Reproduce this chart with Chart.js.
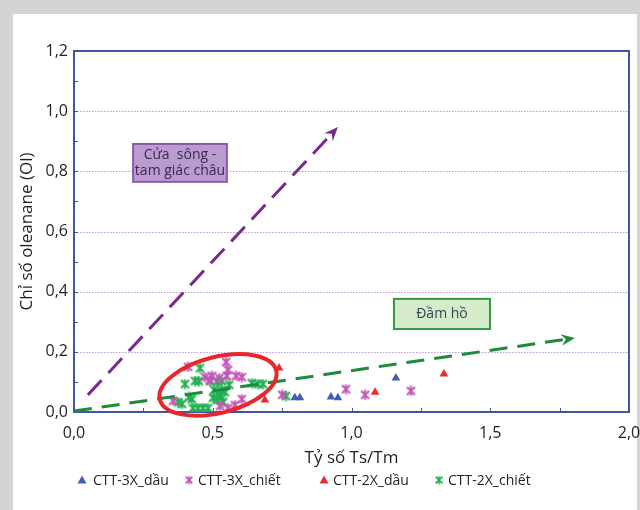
<!DOCTYPE html>
<html>
<head>
<meta charset="utf-8">
<script src="https://cdn.jsdelivr.net/npm/chart.js@4/dist/chart.umd.min.js"></script>
<style>
  html, body { margin: 0; padding: 0; width: 640px; height: 510px; overflow: hidden; background: #d4d4d4; }
  #frame { position: absolute; left: 13px; top: 14px; width: 624px; height: 496px; background: #ffffff; }
  canvas { display: block; position: absolute; left: 0; top: 0; }
</style>
</head>
<body>
<div id="frame"><canvas id="chart" width="628" height="496"></canvas></div>
<script>
// Ts/Tm ratio (x) and oleanane index (y) per sample group
const ctt3xDauX = [0.796, 0.814, 0.926, 0.951, 1.160];
const ctt3xDauY = [0.047, 0.047, 0.050, 0.047, 0.113];

const ctt3xChietX = [0.411, 0.548, 0.555, 0.472, 0.497, 0.523, 0.551, 0.584, 0.605, 0.490,
                     0.357, 0.605, 0.580, 0.555, 0.526, 0.750, 0.980, 1.049, 1.214];
const ctt3xChietY = [0.150, 0.166, 0.140, 0.116, 0.120, 0.113, 0.120, 0.120, 0.116, 0.106,
                     0.037, 0.043, 0.023, 0.013, 0.020, 0.057, 0.076, 0.057, 0.070];

const ctt2xDauX = [0.739, 0.688, 1.085, 1.333];
const ctt2xDauY = [0.146, 0.040, 0.066, 0.126];

const ctt2xChietX = [0.454, 0.400, 0.436, 0.450, 0.490, 0.515, 0.533, 0.559, 0.505, 0.533,
                     0.641, 0.663, 0.681, 0.375, 0.389, 0.414, 0.425, 0.429, 0.447, 0.465,
                     0.483, 0.501, 0.515, 0.530, 0.537, 0.523, 0.544, 0.764];
const ctt2xChietY = [0.146, 0.093, 0.103, 0.103, 0.103, 0.100, 0.103, 0.090, 0.073, 0.073,
                     0.096, 0.093, 0.093, 0.033, 0.027, 0.050, 0.043, 0.013, 0.013, 0.013,
                     0.013, 0.047, 0.040, 0.050, 0.033, 0.060, 0.066, 0.053];

const seriesNames = ['CTT-3X_dầu', 'CTT-3X_chiết', 'CTT-2X_dầu', 'CTT-2X_chiết'];
const xTicks = [0, 0.5, 1.0, 1.5, 2.0];
const yTicks = [0, 0.2, 0.4, 0.6, 0.8, 1.0, 1.2];

// Trend arrows and zone labels, in data units
const arrowDelta = { from: [0.050, 0.057], to: [0.951, 0.947] };
const arrowLake  = { from: [0.000, 0.003], to: [1.805, 0.246] };
const boxDelta = { x0: 0.213, x1: 0.551, y0: 0.891, y1: 0.765, lines: ['Cửa  sông -', 'tam giác châu'] };
const boxLake  = { x0: 1.153, x1: 1.499, y0: 0.376, y1: 0.276, lines: ['Đầm hồ'] };
const clusterRing = { cx: 0.519, cy: 0.090, rx: 0.216, ry: 0.093, angle: -14 };

// legend label start offsets along the bottom row
const legendSlots = [80, 185, 320, 435];

const FONT = '"Open Sans", "Noto Sans", sans-serif';
const AXIS_BLUE = '#3f55a8';

function toPoints(xs, ys) { return xs.map((x, i) => ({ x, y: ys[i] })); }

// six-ray star marker (X plus vertical stroke)
function starMarker(color, size) {
  const c = document.createElement('canvas');
  c.width = size; c.height = size;
  const g = c.getContext('2d');
  g.strokeStyle = color; g.lineWidth = 2; g.lineCap = 'butt';
  const m = 1.5;
  g.beginPath();
  g.moveTo(m, m); g.lineTo(size - m, size - m);
  g.moveTo(size - m, m); g.lineTo(m, size - m);
  g.moveTo(size / 2, 0.5); g.lineTo(size / 2, size - 0.5);
  g.stroke();
  return c;
}

const fmt = v => Number(v).toFixed(1).replace('.', ',');

function drawArrow(g, x0, y0, x1, y1, color, dash) {
  const ang = Math.atan2(y1 - y0, x1 - x0);
  const headLen = 15;
  const bx = x1 - Math.cos(ang) * headLen * 0.7;
  const by = y1 - Math.sin(ang) * headLen * 0.7;
  g.save();
  g.strokeStyle = color; g.lineWidth = 3; g.setLineDash(dash);
  g.beginPath(); g.moveTo(x0, y0); g.lineTo(bx, by); g.stroke();
  g.setLineDash([]);
  g.fillStyle = color;
  g.beginPath();
  g.moveTo(x1, y1);
  g.lineTo(x1 - Math.cos(ang - 0.4) * headLen, y1 - Math.sin(ang - 0.4) * headLen);
  g.lineTo(x1 - Math.cos(ang) * headLen * 0.6, y1 - Math.sin(ang) * headLen * 0.6);
  g.lineTo(x1 - Math.cos(ang + 0.4) * headLen, y1 - Math.sin(ang + 0.4) * headLen);
  g.closePath(); g.fill();
  g.restore();
}

function drawBox(g, xs, ys, box, fill, stroke, textColor) {
  const l = xs.getPixelForValue(box.x0), r = xs.getPixelForValue(box.x1);
  const t = ys.getPixelForValue(box.y0), b = ys.getPixelForValue(box.y1);
  g.save();
  g.fillStyle = fill; g.fillRect(l, t, r - l, b - t);
  g.strokeStyle = stroke; g.lineWidth = 2; g.strokeRect(l, t, r - l, b - t);
  g.fillStyle = textColor; g.font = '14px ' + FONT;
  g.textAlign = 'center'; g.textBaseline = 'middle';
  const n = box.lines.length, lh = 16;
  box.lines.forEach((s, i) => g.fillText(s, (l + r) / 2, (t + b) / 2 + (i - (n - 1) / 2) * lh));
  g.restore();
}

const overlay = {
  id: 'overlay',
  beforeDatasetsDraw(chart) {
    const g = chart.ctx, a = chart.chartArea;
    const xs = chart.scales.x, ys = chart.scales.y;
    g.save();
    // dotted horizontal guides
    g.strokeStyle = '#b79ad6'; g.lineWidth = 1; g.setLineDash([1.5, 1.5]);
    yTicks.forEach(v => {
      if (v <= 0 || v >= 1.2) return;
      const y = Math.round(ys.getPixelForValue(v)) + 0.5;
      g.beginPath(); g.moveTo(a.left, y); g.lineTo(a.right, y); g.stroke();
    });
    g.setLineDash([]);
    // plot frame
    g.strokeStyle = AXIS_BLUE; g.lineWidth = 2;
    g.strokeRect(a.left, a.top, a.right - a.left, a.bottom - a.top);
    // inward ticks
    g.lineWidth = 1;
    for (let k = 1; k < 12; k++) {
      const y = Math.round(ys.getPixelForValue(k / 10)) + 0.5;
      g.beginPath(); g.moveTo(a.left, y); g.lineTo(a.left + 4, y); g.stroke();
    }
    for (let k = 1; k < 8; k++) {
      const x = Math.round(xs.getPixelForValue(k / 4)) + 0.5;
      g.beginPath(); g.moveTo(x, a.bottom); g.lineTo(x, a.bottom - 4); g.stroke();
    }
    g.restore();
  },
  afterDatasetsDraw(chart) {
    const g = chart.ctx;
    const xs = chart.scales.x, ys = chart.scales.y;
    const px = p => [xs.getPixelForValue(p[0]), ys.getPixelForValue(p[1])];
    let [x0, y0] = px(arrowDelta.from), [x1, y1] = px(arrowDelta.to);
    drawArrow(g, x0, y0, x1, y1, '#7a2a8c', [20, 10]);
    [x0, y0] = px(arrowLake.from); [x1, y1] = px(arrowLake.to);
    drawArrow(g, x0, y0, x1, y1, '#1d8a3c', [18, 10]);

    // ring around the main cluster
    const cx = xs.getPixelForValue(clusterRing.cx), cy = ys.getPixelForValue(clusterRing.cy);
    const rx = Math.abs(xs.getPixelForValue(clusterRing.rx) - xs.getPixelForValue(0));
    const ry = Math.abs(ys.getPixelForValue(clusterRing.ry) - ys.getPixelForValue(0));
    g.save();
    g.strokeStyle = '#e8262b'; g.lineWidth = 4;
    g.beginPath(); g.ellipse(cx, cy, rx, ry, clusterRing.angle * Math.PI / 180, 0, Math.PI * 2); g.stroke();
    g.restore();

    drawBox(g, xs, ys, boxDelta, '#b99bcf', '#8c5aa8', '#3b2a55');
    drawBox(g, xs, ys, boxLake, '#d6ebc9', '#2e9a46', '#34465a');
  },
  afterDraw(chart) {
    // bottom legend row, one slot per dataset
    const g = chart.ctx;
    const y = chart.height - 30;
    g.save();
    g.font = '14px ' + FONT; g.textBaseline = 'middle'; g.textAlign = 'left';
    chart.data.datasets.forEach((ds, i) => {
      const tx = legendSlots[i];
      const mx = tx - (i === 0 ? 11 : 9);
      if (ds.pointStyle === 'triangle') {
        g.fillStyle = ds.backgroundColor;
        g.beginPath(); g.moveTo(mx, y - 4.5); g.lineTo(mx + 4.5, y + 3.5); g.lineTo(mx - 4.5, y + 3.5); g.closePath(); g.fill();
      } else {
        g.drawImage(ds.pointStyle, mx - 4.5, y - 4.5, 9, 9);
      }
      g.fillStyle = '#231f20';
      g.fillText(ds.label, tx, y + 1);
    });
    g.restore();
  }
};

const blue = '#3f5fb0', magenta = '#c455b6', red = '#ee2a2a', green = '#1fb04f';

new Chart(document.getElementById('chart'), {
  type: 'scatter',
  data: {
    datasets: [
      { label: seriesNames[0], data: toPoints(ctt3xDauX, ctt3xDauY), pointStyle: 'triangle',
        backgroundColor: blue, borderColor: blue, pointRadius: 5, borderWidth: 0 },
      { label: seriesNames[1], data: toPoints(ctt3xChietX, ctt3xChietY), pointStyle: starMarker(magenta, 11),
        backgroundColor: magenta, borderColor: magenta, pointRadius: 5 },
      { label: seriesNames[2], data: toPoints(ctt2xDauX, ctt2xDauY), pointStyle: 'triangle',
        backgroundColor: red, borderColor: red, pointRadius: 5, borderWidth: 0 },
      { label: seriesNames[3], data: toPoints(ctt2xChietX, ctt2xChietY), pointStyle: starMarker(green, 11),
        backgroundColor: green, borderColor: green, pointRadius: 5 }
    ]
  },
  options: {
    responsive: false,
    animation: false,
    layout: { autoPadding: false, padding: { top: 37, right: 12, left: 0, bottom: 42 } },
    scales: {
      x: {
        type: 'linear', min: 0, max: 2,
        afterBuildTicks: s => { s.ticks = xTicks.map(v => ({ value: v })); },
        afterFit: s => { s.height = 56; s.paddingLeft = 0; s.paddingRight = 0; },
        grid: { display: false, drawTicks: false },
        border: { display: false },
        ticks: { callback: fmt, color: '#231f20', font: { family: FONT, size: 16 }, padding: 12, maxRotation: 0 },
        title: { display: true, text: 'Tỷ số Ts/Tm', color: '#231f20', font: { family: FONT, size: 17 }, padding: 0 }
      },
      y: {
        type: 'linear', min: 0, max: 1.2,
        afterBuildTicks: s => { s.ticks = yTicks.map(v => ({ value: v })); },
        afterFit: s => { s.width = 61; s.paddingTop = 0; s.paddingBottom = 0; },
        grid: { display: false, drawTicks: false },
        border: { display: false },
        ticks: { callback: fmt, color: '#231f20', font: { family: FONT, size: 16 }, padding: 6 },
        title: { display: true, text: 'Chỉ số oleanane (Ol)', color: '#231f20', font: { family: FONT, size: 17 }, padding: { top: 4, bottom: 0 } }
      }
    },
    plugins: {
      tooltip: { enabled: false },
      legend: { display: false }
    }
  },
  plugins: [overlay]
});
</script>
</body>
</html>
